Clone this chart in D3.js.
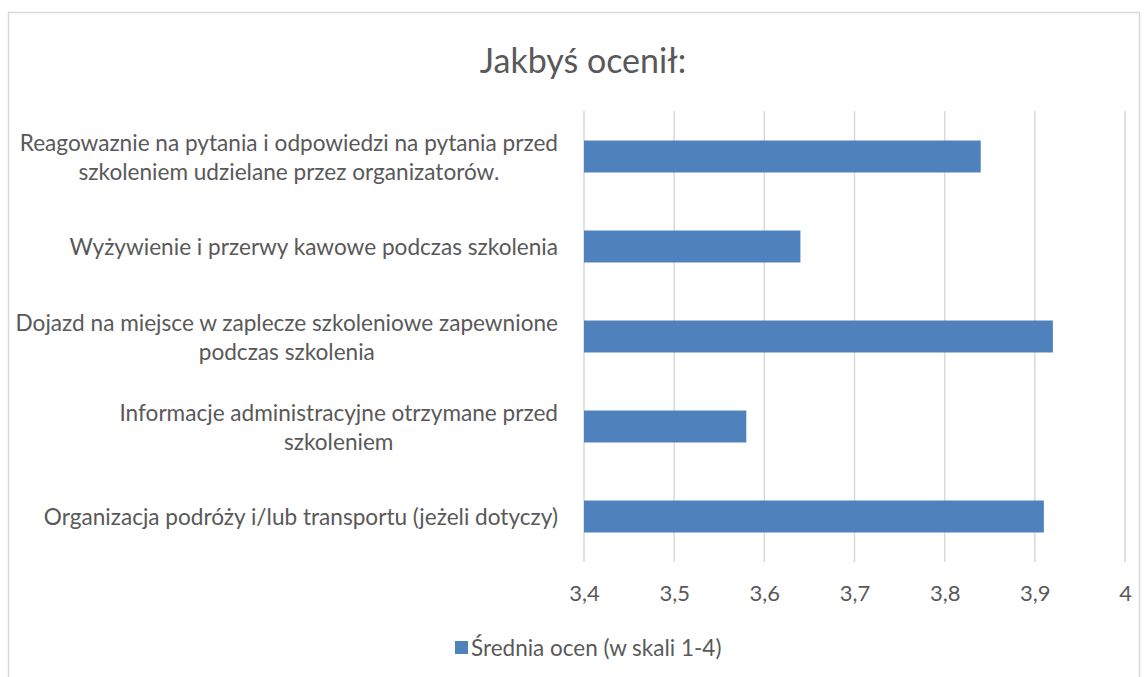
<!DOCTYPE html>
<html>
<head>
<meta charset="utf-8">
<script src="https://cdn.jsdelivr.net/npm/d3@7"></script>
<style>
  html, body { margin: 0; padding: 0; background: #fff; }
  svg { display: block; }
  text { font-family: Lato, "Open Sans", sans-serif; fill: #595959; }
</style>
</head>
<body>
<svg id="chart" width="1147" height="677"></svg>
<script>
const title = "Jakbyś ocenił:";
const categories = [
  ["Reagowaznie na pytania i odpowiedzi na pytania przed", "szkoleniem udzielane przez organizatorów."],
  ["Wyżywienie i przerwy kawowe podczas szkolenia"],
  ["Dojazd na miejsce w zaplecze szkoleniowe zapewnione", "podczas szkolenia"],
  ["Informacje administracyjne otrzymane przed", "szkoleniem"],
  ["Organizacja podróży i/lub transportu (jeżeli dotyczy)"]
];
const values = [3.84, 3.64, 3.92, 3.58, 3.91];
const tickValues = [3.4, 3.5, 3.6, 3.7, 3.8, 3.9, 4.0];
const tickLabels = ["3,4", "3,5", "3,6", "3,7", "3,8", "3,9", "4"];
const seriesName = "Średnia ocen (w skali 1-4)";

const svg = d3.select("#chart");
const barColor = "#4f81bd";
const gridColor = "#d9d9d9";

svg.append("rect")
  .attr("x", 8.5).attr("y", 12.5)
  .attr("width", 1131).attr("height", 700)
  .attr("fill", "none").attr("stroke", gridColor).attr("stroke-width", 1.5);

const x = d3.scaleLinear().domain([3.4, 4.0]).range([584, 1125]);
const y = d3.scaleBand().domain(d3.range(categories.length)).range([111.5, 561.5]).paddingInner(0.645).paddingOuter(0.3225);

svg.append("text")
  .attr("x", 583).attr("y", 59)
  .attr("text-anchor", "middle")
  .attr("dominant-baseline", "central")
  .style("font-size", "34px")
  .text(title);

svg.append("g").selectAll("line")
  .data(tickValues)
  .join("line")
  .attr("x1", d => x(d)).attr("x2", d => x(d))
  .attr("y1", 111).attr("y2", 562)
  .attr("stroke", gridColor).attr("stroke-width", 1.5);

svg.append("g").selectAll("rect")
  .data(values)
  .join("rect")
  .attr("x", x(3.4))
  .attr("y", (d, i) => y(i))
  .attr("width", d => x(d) - x(3.4))
  .attr("height", y.bandwidth())
  .attr("fill", barColor);

const xAxis = d3.axisBottom(x).tickValues(tickValues).tickFormat((d, i) => tickLabels[i]).tickSize(0);
const gx = svg.append("g").attr("transform", "translate(0,582)").call(xAxis);
gx.select(".domain").remove();
gx.selectAll("text").style("font-size", "22px").style("fill", "#595959")
  .style("font-family", "Lato, sans-serif");

const labelFont = 22.6;
const lineH = 29;
const labelRight = 558;
const lg = svg.append("g");
categories.forEach((lines, i) => {
  const cy = y(i) + y.bandwidth() / 2;
  const g = lg.append("g");
  const texts = lines.map((ln, j) => g.append("text")
    .attr("y", cy + (j - (lines.length - 1) / 2) * lineH)
    .attr("dominant-baseline", "central")
    .style("font-size", labelFont + "px")
    .text(ln));
  const widths = texts.map(t => t.node().getComputedTextLength());
  const maxW = d3.max(widths);
  const center = labelRight - maxW / 2;
  texts.forEach(t => t.attr("x", center).attr("text-anchor", "middle"));
});

const legend = svg.append("g");
legend.append("rect")
  .attr("x", 455).attr("y", 641)
  .attr("width", 13).attr("height", 13)
  .attr("fill", barColor);
legend.append("text")
  .attr("x", 471).attr("y", 647.5)
  .attr("dominant-baseline", "central")
  .style("font-size", "22.5px")
  .text(seriesName);
</script>
</body>
</html>
